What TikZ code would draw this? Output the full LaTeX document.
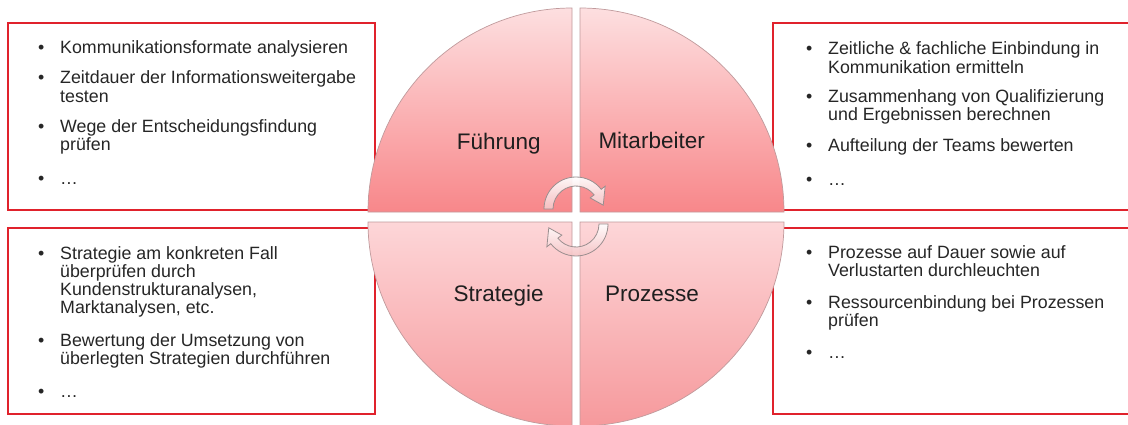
\documentclass[tikz,border=0pt]{standalone}
\usepackage{fontspec}
\setmainfont{Liberation Sans}
\usetikzlibrary{calc}

\definecolor{boxred}{HTML}{E0222C}
\definecolor{textgray}{HTML}{262626}
\definecolor{qtop}{HTML}{FDDFE0}
\definecolor{qbot}{HTML}{F8878A}
\definecolor{qbotlow}{HTML}{F6999C}
\definecolor{qtoplow}{HTML}{FDD6D8}
\definecolor{quadedge}{HTML}{C09A9C}
\definecolor{arrowpink}{HTML}{F5C3C5}
\definecolor{arrowedge}{HTML}{9A8E8F}

% bullet item: bullet, then a hanging block of explicitly broken lines
\newcommand\bul[1]{\makebox[22pt][l]{\textbullet}\parbox[t]{400pt}{\raggedright #1}}

\tikzset{
  infobox/.style={draw=boxred, line width=1.8pt, fill=white},
  bitem/.style={anchor=base west, inner sep=0pt, text=textgray,
    font=\fontsize{17.8}{18.3}\selectfont},
  quadlabel/.style={anchor=base west, inner sep=0pt, text=black!88,
    font=\fontsize{22.5}{26}\selectfont},
  quarter/.style={draw=quadedge, line width=0.7pt},
  cyclearrow/.style={draw=arrowedge, line width=0.8pt, fill opacity=0.92,
    top color=white, bottom color=arrowpink},
  pics/turnarrow/.style={code={
    \path[cyclearrow] (180:32) arc[start angle=180, end angle=38, radius=32]
      -- (38:37) -- (8:27.5) -- (38:18) -- (38:23)
      arc[start angle=38, end angle=180, radius=23] -- cycle;
  }}
}

\begin{document}
\begin{tikzpicture}[x=1pt, y=1pt]
  \clip (0,0) rectangle (1128,424);
  \fill[white] (0,0) rectangle (1128,424);

  % four text frames
  \path[infobox] (8,214) rectangle (375,401);
  \path[infobox] (773,214) rectangle (1140,401);
  \path[infobox] (8,10) rectangle (375,196);
  \path[infobox] (773,10) rectangle (1140,196);

  % the four quarters of the circle
  \path[quarter, top color=qtop, bottom color=qbot]
    (572,212) -- (368,212) arc[start angle=180, end angle=90, radius=204] -- cycle;
  \path[quarter, top color=qtop, bottom color=qbot]
    (580,212) -- (580,416) arc[start angle=90, end angle=0, radius=204] -- cycle;
  \path[quarter, top color=qtoplow, bottom color=qbotlow]
    (572,202) -- (572,-2) arc[start angle=270, end angle=180, radius=204] -- cycle;
  \path[quarter, top color=qtoplow, bottom color=qbotlow]
    (580,202) -- (784,202) arc[start angle=0, end angle=-90, radius=204] -- cycle;

  % cycle arrows in the middle
  \pic at (576,215) {turnarrow};
  \pic[rotate=180] at (576,200) {turnarrow};

  % quarter labels
  \node[quadlabel] (fuehrung)    at (456.7,274)   {Führung};
  \node[quadlabel] (mitarbeiter) at (598.3,275.2) {Mitarbeiter};
  \node[quadlabel] (strategie)   at (453.3,122.3) {Strategie};
  \node[quadlabel] (prozesse)    at (605,122.3)   {Prozesse};

  % top left: Führung
  \node[bitem] (tl1) at (38,370)   {\bul{Kommunikationsformate analysieren}};
  \node[bitem] (tl2) at (38,340)   {\bul{Zeitdauer der Informationsweitergabe\\testen}};
  \node[bitem] (tl3) at (38,291.7) {\bul{Wege der Entscheidungsfindung\\prüfen}};
  \node[bitem] (tl4) at (38,240)   {\bul{…}};

  % top right: Mitarbeiter
  \node[bitem] (tr1) at (806,369)   {\bul{Zeitliche \& fachliche Einbindung in\\Kommunikation ermitteln}};
  \node[bitem] (tr2) at (806,321.3) {\bul{Zusammenhang von Qualifizierung\\und Ergebnissen berechnen}};
  \node[bitem] (tr3) at (806,272.3) {\bul{Aufteilung der Teams bewerten}};
  \node[bitem] (tr4) at (806,239)   {\bul{…}};

  % bottom left: Strategie
  \node[bitem] (bl1) at (38,165)  {\bul{Strategie am konkreten Fall\\überprüfen durch\\Kundenstrukturanalysen,\\Marktanalysen, etc.}};
  \node[bitem] (bl2) at (38,78)   {\bul{Bewertung der Umsetzung von\\überlegten Strategien durchführen}};
  \node[bitem] (bl3) at (38,26.7) {\bul{…}};

  % bottom right: Prozesse
  \node[bitem] (br1) at (806,165.7) {\bul{Prozesse auf Dauer sowie auf\\Verlustarten durchleuchten}};
  \node[bitem] (br2) at (806,115.7) {\bul{Ressourcenbindung bei Prozessen\\prüfen}};
  \node[bitem] (br3) at (806,65.7)  {\bul{…}};
\end{tikzpicture}
\end{document}
